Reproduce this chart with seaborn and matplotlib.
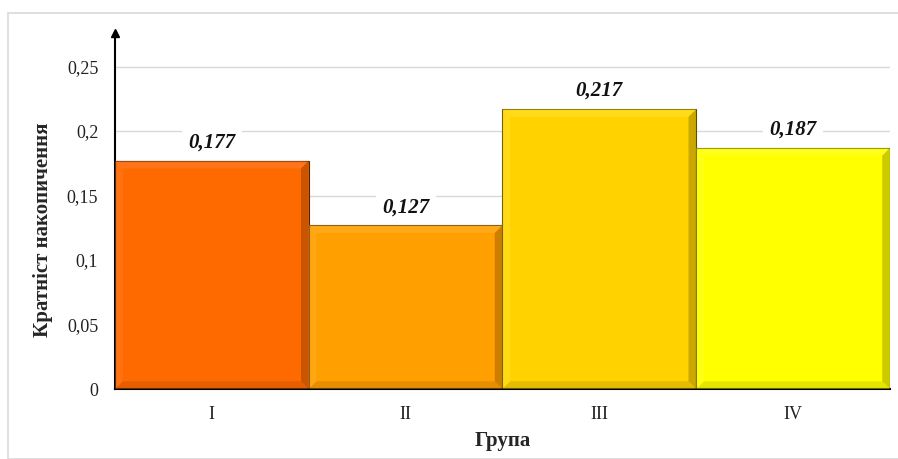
import matplotlib
matplotlib.use("Agg")
import matplotlib.pyplot as plt
import seaborn as sns
import pandas as pd
from matplotlib.patches import Rectangle, Polygon
from matplotlib.colors import to_rgb

groups = ["I", "II", "III", "IV"]
values = [0.177, 0.127, 0.217, 0.187]
value_labels = ["0,177", "0,127", "0,217", "0,187"]
colors = ["#FF6A00", "#FF9F00", "#FFD200", "#FFFF00"]
yticks = [0, 0.05, 0.1, 0.15, 0.2, 0.25]
ytick_labels = ["0", "0,05", "0,1", "0,15", "0,2", "0,25"]

df = pd.DataFrame({"Група": groups, "value": values})

sns.set_theme(style="white")
plt.rcParams["font.family"] = ["Liberation Serif", "DejaVu Serif"]

fig = plt.figure(figsize=(8.98, 4.59), dpi=100)
# light frame around the chart area
fig.patches.append(Rectangle((8 / 898, 0), 1, 1 - 13 / 459, transform=fig.transFigure,
                             fill=False, edgecolor="#D9D9D9", linewidth=1.2))

ax = fig.add_axes([115 / 898, 70 / 459, 775 / 898, 356 / 459])
sns.barplot(data=df, x="Група", y="value", hue="Група", palette=colors,
            width=1.0, legend=False, ax=ax, saturation=1, zorder=2)

ax.set_xlim(-0.5, 3.5)
ax.set_ylim(0, 0.276)
ax.set_yticks(yticks)
ax.set_yticklabels(ytick_labels)
ax.yaxis.grid(True, color="#D9D9D9", linewidth=1.0, zorder=0)
ax.set_axisbelow(True)

# bevelled look on every bar
for patch, col in zip(ax.patches, colors):
    x0, y0 = patch.get_x(), patch.get_y()
    w, h = patch.get_width(), patch.get_height()
    r, g, b = to_rgb(col)
    dark = (r * 0.55, g * 0.55, b * 0.55)
    mid = (r * 0.8, g * 0.8, b * 0.8)
    light = (min(1, r + 0.1), min(1, g + 0.1), min(1, b + 0.25))
    dx, dy = w * 0.04, 0.006
    patch.set_edgecolor((r * 0.35, g * 0.35, b * 0.35))
    patch.set_linewidth(0.8)
    ax.add_patch(Polygon([(x0 + w, y0), (x0 + w, y0 + h), (x0 + w - dx, y0 + h - dy),
                          (x0 + w - dx, y0 + dy)], closed=True, facecolor=dark,
                         edgecolor="none", alpha=0.45, zorder=3))
    ax.add_patch(Polygon([(x0, y0), (x0 + w, y0), (x0 + w - dx, y0 + dy),
                          (x0 + dx, y0 + dy)], closed=True, facecolor=mid,
                         edgecolor="none", alpha=0.5, zorder=3))
    ax.add_patch(Polygon([(x0, y0 + h), (x0 + w, y0 + h), (x0 + w - dx, y0 + h - dy),
                          (x0 + dx, y0 + h - dy)], closed=True, facecolor=light,
                         edgecolor="none", alpha=0.4, zorder=3))
    ax.add_patch(Polygon([(x0, y0), (x0, y0 + h), (x0 + dx, y0 + h - dy),
                          (x0 + dx, y0 + dy)], closed=True, facecolor=light,
                         edgecolor="none", alpha=0.3, zorder=3))

for i, (v, lab) in enumerate(zip(values, value_labels)):
    ax.text(i, v + 0.014, lab, ha="center", va="center", fontsize=15,
            fontweight="bold", fontstyle="italic", color="#111111", zorder=4,
            bbox=dict(boxstyle="square,pad=0.3", facecolor="white", edgecolor="none"))

for side in ["top", "right"]:
    ax.spines[side].set_visible(False)
ax.spines["left"].set_color("black")
ax.spines["left"].set_linewidth(1.5)
ax.spines["bottom"].set_color("black")
ax.spines["bottom"].set_linewidth(1.5)
ax.plot([0], [1], marker="^", color="black", markersize=6,
        transform=ax.transAxes, clip_on=False)

ax.tick_params(axis="both", length=0, labelsize=13, colors="#222222")
ax.tick_params(axis="y", pad=12)
ax.tick_params(axis="x", pad=12)
ax.set_xlabel("Група", fontsize=15, fontweight="bold", labelpad=6)
ax.set_ylabel("Кратніст накопичення", fontsize=15, fontweight="bold")
ax.yaxis.set_label_coords(-0.08, 0.447)

fig.savefig("out.png", dpi=100)
